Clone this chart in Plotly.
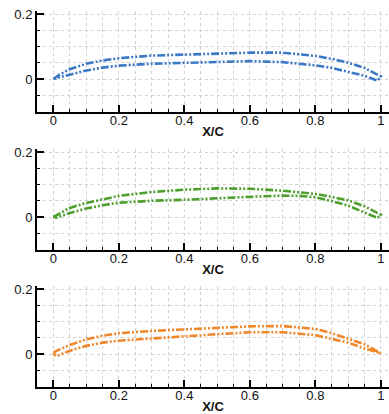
import plotly.graph_objects as go

# ---- data ----
blue_upper_x = [0, 0.02, 0.05, 0.1, 0.15, 0.2, 0.3, 0.4, 0.5, 0.6, 0.7, 0.8, 0.85, 0.9, 0.95, 1.0]
blue_upper_y = [0, 0.014, 0.030, 0.047, 0.057, 0.064, 0.072, 0.076, 0.078, 0.081, 0.081, 0.071, 0.062, 0.050, 0.034, 0.008]
blue_lower_x = [0, 0.02, 0.05, 0.1, 0.15, 0.2, 0.3, 0.4, 0.5, 0.6, 0.7, 0.8, 0.85, 0.9, 0.95, 0.99]
blue_lower_y = [0, 0.006, 0.014, 0.026, 0.035, 0.041, 0.047, 0.051, 0.053, 0.055, 0.052, 0.042, 0.034, 0.023, 0.010, -0.005]

green_upper_x = [0, 0.02, 0.05, 0.1, 0.15, 0.2, 0.3, 0.4, 0.5, 0.6, 0.7, 0.8, 0.85, 0.9, 0.95, 1.0]
green_upper_y = [0, 0.012, 0.028, 0.043, 0.055, 0.065, 0.077, 0.084, 0.088, 0.087, 0.081, 0.071, 0.062, 0.051, 0.033, 0.007]
green_lower_x = [0, 0.01, 0.02, 0.05, 0.1, 0.15, 0.2, 0.3, 0.4, 0.5, 0.6, 0.7, 0.75, 0.8, 0.85, 0.9, 0.95, 0.99]
green_lower_y = [0, -0.002, 0.003, 0.012, 0.026, 0.036, 0.044, 0.050, 0.053, 0.057, 0.062, 0.066, 0.065, 0.061, 0.049, 0.035, 0.015, -0.003]

orange_upper_x = [0, 0.01, 0.02, 0.05, 0.1, 0.15, 0.2, 0.3, 0.4, 0.5, 0.6, 0.7, 0.8, 0.85, 0.9, 0.95, 1.0]
orange_upper_y = [0.004, 0.010, 0.015, 0.028, 0.045, 0.056, 0.064, 0.071, 0.076, 0.081, 0.085, 0.086, 0.077, 0.064, 0.048, 0.030, 0.002]
orange_lower_x = [0, 0.005, 0.012, 0.03, 0.05, 0.1, 0.15, 0.2, 0.3, 0.4, 0.5, 0.6, 0.7, 0.8, 0.85, 0.9, 0.95, 1.0]
orange_lower_y = [0.004, -0.004, -0.006, 0.002, 0.010, 0.025, 0.035, 0.041, 0.048, 0.055, 0.061, 0.067, 0.067, 0.058, 0.046, 0.035, 0.017, 0.002]

x_tick_vals = [0, 0.2, 0.4, 0.6, 0.8, 1.0]
x_tick_text = ["0", "0.2", "0.4", "0.6", "0.8", "1"]
y_tick_vals = [0, 0.2]
y_tick_text = ["0", "0.2"]

series = [
    ("#3b78c6", blue_upper_x, blue_upper_y, blue_lower_x, blue_lower_y),
    ("#4f9f2f", green_upper_x, green_upper_y, green_lower_x, green_lower_y),
    ("#f0872a", orange_upper_x, orange_upper_y, orange_lower_x, orange_lower_y),
]

W, H = 389, 414
LEFT = 37
zero_px = [79, 217, 354]        # pixel row of y=0 in each panel
PX_PER_UNIT = 325.0
Y_RANGE = [-0.1, 0.21]
X_RANGE = [-0.05, -0.05 + (W - LEFT) / 327.5]
GRID = "#d2d2d2"

fig = go.Figure()
layout = dict(
    width=W, height=H,
    margin=dict(l=LEFT, r=0, t=0, b=0),
    paper_bgcolor="white", plot_bgcolor="white",
    showlegend=False,
    font=dict(family="Liberation Sans, Arial, sans-serif", size=13, color="#111"),
)

for i, (color, ux, uy, lx, ly) in enumerate(series):
    n = "" if i == 0 else str(i + 1)
    xs = list(ux) + list(reversed(lx))
    ys = list(uy) + list(reversed(ly))
    fig.add_trace(go.Scatter(
        x=xs, y=ys, mode="lines",
        line=dict(color=color, width=2.6, dash="8px,2px,2px,2px,2px,2px"),
        xaxis="x" + n, yaxis="y" + n, hoverinfo="skip",
    ))
    z = zero_px[i]
    top_px = z - Y_RANGE[1] * PX_PER_UNIT
    bot_px = z - Y_RANGE[0] * PX_PER_UNIT
    dom = [1 - bot_px / H, 1 - top_px / H]
    layout["xaxis" + n] = dict(
        domain=[0, 1], anchor="y" + n, range=X_RANGE,
        tickmode="array", tickvals=x_tick_vals, ticktext=x_tick_text,
        ticks="inside", ticklen=7, tickwidth=1.5, tickcolor="black",
        showline=True, linecolor="black", linewidth=2,
        showgrid=True, gridcolor=GRID, griddash="dot", gridwidth=1,
        minor=dict(dtick=0.05, tick0=0, showgrid=True, gridcolor=GRID,
                   griddash="dot", gridwidth=1, ticks="inside", ticklen=3,
                   tickcolor="black", tickwidth=1),
        zeroline=False,
        ticklabelstandoff=-4,
        title=dict(text="<b>X/C</b>", font=dict(size=13, color="#111"), standoff=0),
        tickfont=dict(size=13, color="#111"),
        automargin=False,
    )
    layout["yaxis" + n] = dict(
        domain=dom, anchor="x" + n, range=Y_RANGE,
        tickmode="array", tickvals=y_tick_vals, ticktext=y_tick_text,
        ticks="inside", ticklen=7, tickwidth=1.5, tickcolor="black",
        showline=True, linecolor="black", linewidth=2,
        showgrid=True, gridcolor=GRID, griddash="dot", gridwidth=1,
        minor=dict(dtick=0.05, tick0=0, showgrid=True, gridcolor=GRID,
                   griddash="dot", gridwidth=1, ticks="inside", ticklen=3,
                   tickcolor="black", tickwidth=1),
        zeroline=False,
        tickfont=dict(size=13, color="#111"),
        automargin=False,
    )

fig.update_layout(**layout)
fig.write_html("out.html")
